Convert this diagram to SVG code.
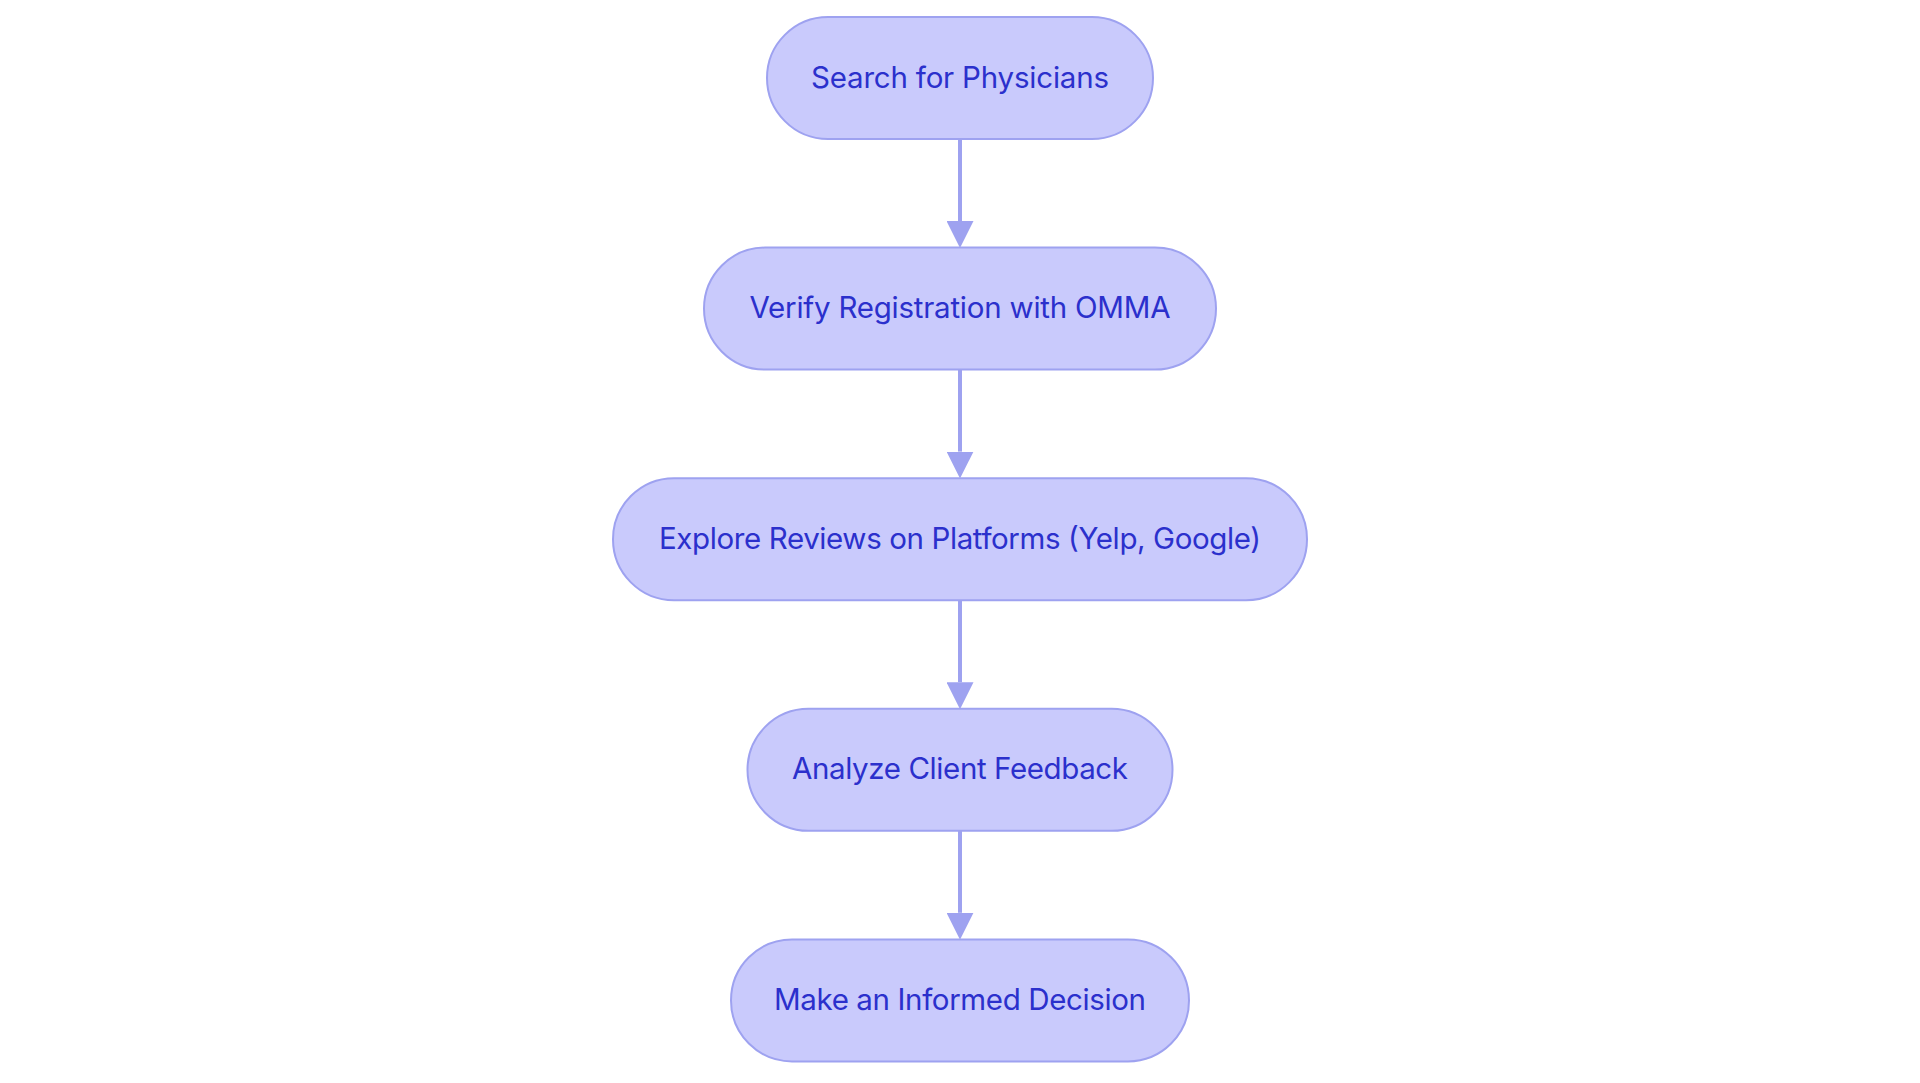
<svg xmlns="http://www.w3.org/2000/svg" width="1920" height="1083" viewBox="0 0 1920 1083">
<style>
.node rect{fill:#c9cafc;stroke:#9ea2f0;stroke-width:2}
.node text{font-family:Inter,"Noto Sans","Liberation Sans",sans-serif;font-size:29.5px;fill:#2b30cc;text-anchor:middle}
.edge{stroke:#9ea2f0;stroke-width:4;fill:none}
</style>
<defs>
<marker id="arrow" viewBox="0 0 10 10" refX="0" refY="5" markerUnits="userSpaceOnUse" markerWidth="27" markerHeight="27" orient="auto">
<path d="M0,0 L10,5 L0,10 z" fill="#9ea2f0"/>
</marker>
</defs>
<rect width="1920" height="1083" fill="#ffffff"/>
<g id="connectors">
<line class="edge" x1="960" y1="139" x2="960" y2="221" marker-end="url(#arrow)"/>
<line class="edge" x1="960" y1="369.6" x2="960" y2="451.6" marker-end="url(#arrow)"/>
<line class="edge" x1="960" y1="600.2" x2="960" y2="682.2" marker-end="url(#arrow)"/>
<line class="edge" x1="960" y1="830.8" x2="960" y2="912.8" marker-end="url(#arrow)"/>
</g>
<g id="node1" class="node">
<rect x="767" y="17" width="386" height="122" rx="61" ry="61"/>
<text x="960" y="87.5" textLength="298" lengthAdjust="spacing">Search for Physicians</text>
</g>
<g id="node2" class="node">
<rect x="704" y="247.6" width="512" height="122" rx="61" ry="61"/>
<text x="960" y="318.1" textLength="421" lengthAdjust="spacing">Verify Registration with OMMA</text>
</g>
<g id="node3" class="node">
<rect x="613" y="478.2" width="694" height="122" rx="61" ry="61"/>
<text x="960" y="548.7" textLength="602" lengthAdjust="spacing">Explore Reviews on Platforms (Yelp, Google)</text>
</g>
<g id="node4" class="node">
<rect x="747.5" y="708.8" width="425" height="122" rx="61" ry="61"/>
<text x="960" y="779.3" textLength="336" lengthAdjust="spacing">Analyze Client Feedback</text>
</g>
<g id="node5" class="node">
<rect x="731" y="939.4" width="458" height="122" rx="61" ry="61"/>
<text x="960" y="1009.9" textLength="372" lengthAdjust="spacing">Make an Informed Decision</text>
</g>
</svg>
